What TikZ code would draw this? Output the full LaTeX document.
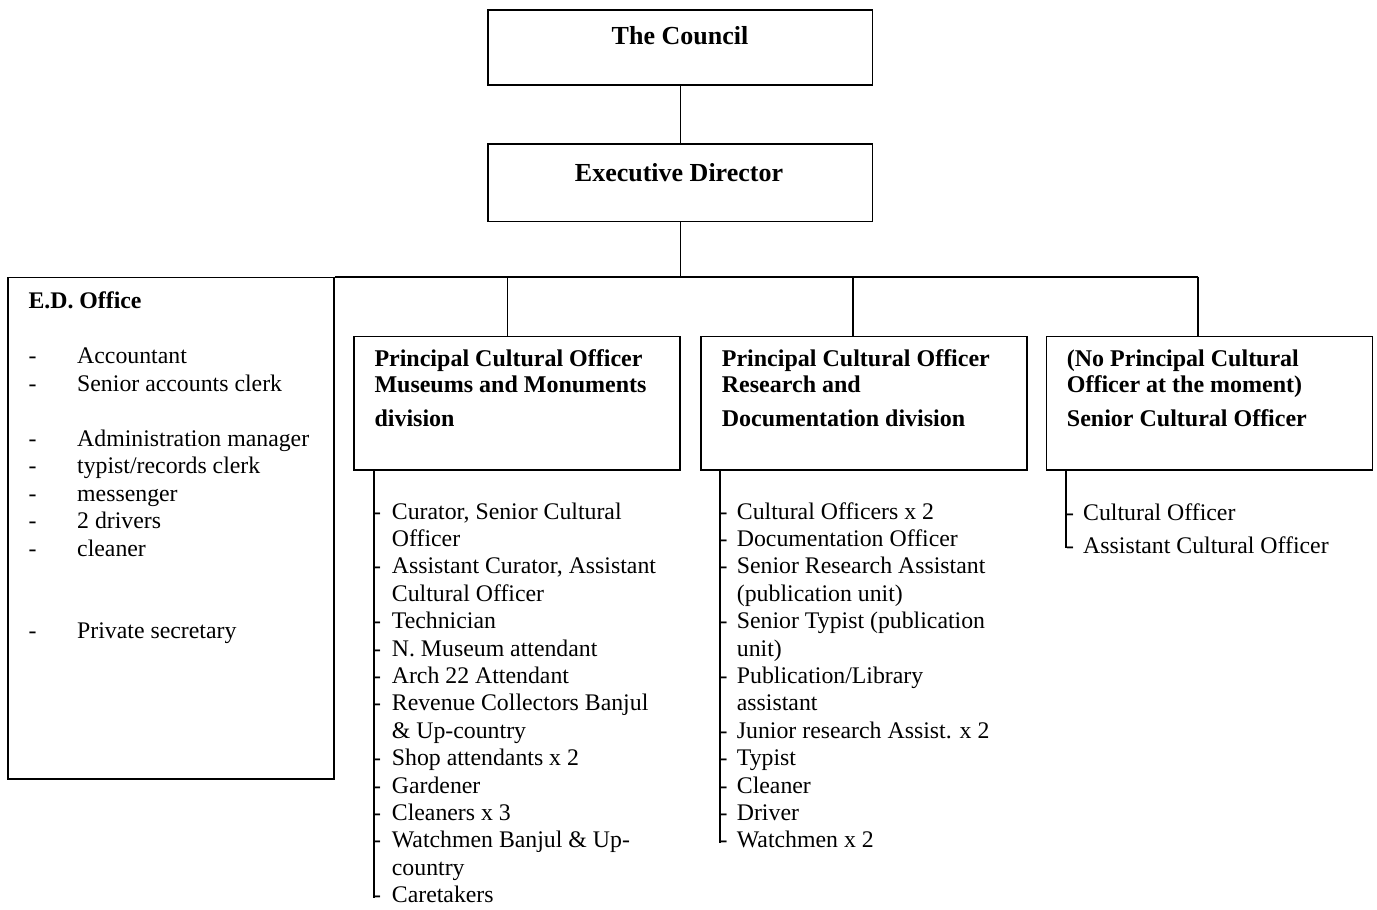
\documentclass[tikz,border=0pt]{standalone}
\usepackage{fontspec}
\setmainfont{Liberation Serif}
\usepackage{array}
\newcommand\lstfont{\fontsize{23.8}{27.4}\selectfont}
\newcommand\edofont{\fontsize{23.8}{27.5}\selectfont}
\newcommand\rgtfont{\fontsize{23.8}{33.5}\selectfont}
\newcommand\hdfont{\fontsize{24}{26}\selectfont\bfseries}
\newcommand\topfont{\fontsize{26}{30}\selectfont\bfseries}
\begin{document}
\begin{tikzpicture}[x=1pt,y=-1pt,
  box/.style={draw, line width=1.6pt, inner sep=0pt, anchor=north west},
  lbl/.style={inner sep=0pt, anchor=base west},
  ttl/.style={inner sep=0pt, anchor=base},
  wire/.style={line width=1.6pt}]
\useasboundingbox[fill=white] (0,0) rectangle (1377,910);

% boxes
\node[box, minimum width=384.4pt, minimum height=75pt] (council) at (487.3,9.3) {};
\node[box, minimum width=384.4pt, minimum height=77.4pt] (ed) at (487.3,143.3) {};
\node[box, minimum width=326pt, minimum height=501.6pt] (edo) at (7.3,276.7) {};
\node[box, minimum width=326pt, minimum height=133.3pt] (mus) at (353,335.7) {};
\node[box, minimum width=326pt, minimum height=133.3pt] (res) at (700,335.7) {};
\node[box, minimum width=326pt, minimum height=133.3pt] (none) at (1045.5,335.7) {};

% titles
\node[ttl] (councilt) at (680,44.3) {\topfont The Council};
\node[ttl] (edt) at (679,181.7) {\topfont Executive Director};

\node[lbl] (mushead) at (374.3,366.7) {\hdfont\begin{tabular}[t]{@{}l@{}}Principal Cultural Officer\\Museums and Monuments\\[8pt]division\end{tabular}};
\node[lbl] (reshead) at (721.7,366.7) {\hdfont\begin{tabular}[t]{@{}l@{}}Principal Cultural Officer\\Research and\\[8pt]Documentation division\end{tabular}};
\node[lbl] (nonehead) at (1066.7,366.7) {\hdfont\begin{tabular}[t]{@{}l@{}}(No Principal Cultural\\Officer at the moment)\\[8pt]Senior Cultural Officer\end{tabular}};

% connectors
\coordinate (b1) at (507.5,276.7);
\coordinate (b2) at (853,276.7);
\coordinate (b3) at (1197.7,276.7);
\draw[wire] (council.south) -- (ed.north);
\draw[wire] (ed.south) -- (ed.south |- edo.north);
\draw[wire] (edo.north east) -- (b3);
\draw[wire] (b1) -- (b1 |- mus.north);
\draw[wire] (b2) -- (b2 |- res.north);
\draw[wire] (b3) -- (b3 |- none.north);

\coordinate (mbot) at (373.8,897.5);
\coordinate (rbot) at (719.8,843);
\coordinate (nbot) at (1066,548);
\draw[wire] (mus.south -| mbot) -- (mbot);
\draw[wire] (res.south -| rbot) -- (rbot);
\draw[wire] (none.south -| nbot) -- (nbot);

% E.D. Office contents
\node[lbl] (edolist) at (28.3,308.5) {\edofont\begin{tabular}[t]{@{}p{48.7pt}@{}l@{}}
\multicolumn{2}{@{}l@{}}{\bfseries E.D. Office}\\
\\
- & Accountant\\
- & Senior accounts clerk\\
\\
- & Administration manager\\
- & typist/records clerk\\
- & messenger\\
- & 2 drivers\\
- & cleaner\\
\\
\\
- & Private secretary
\end{tabular}};

% Museums list
\node[lbl] (muslist) at (373,519) {\lstfont\begin{tabular}[t]{@{}p{18.7pt}@{}l@{}}
- & Curator, Senior Cultural\\
 & Officer\\
- & Assistant Curator, Assistant\\
 & Cultural Officer\\
- & Technician\\
- & N. Museum attendant\\
- & Arch 22 Attendant\\
- & Revenue Collectors Banjul\\
 & \& Up-country\\
- & Shop attendants x 2\\
- & Gardener\\
- & Cleaners x 3\\
- & Watchmen Banjul \& Up-\\
 & country\\
- & Caretakers
\end{tabular}};

% Research list
\node[lbl] (reslist) at (719.5,519) {\lstfont\begin{tabular}[t]{@{}p{17.2pt}@{}l@{}}
- & Cultural Officers x 2\\
- & Documentation Officer\\
- & Senior Research Assistant\\
 & (publication unit)\\
- & Senior Typist (publication\\
 & unit)\\
- & Publication/Library\\
 & assistant\\
- & Junior research Assist. x 2\\
- & Typist\\
- & Cleaner\\
- & Driver\\
- & Watchmen x 2
\end{tabular}};

% Senior Cultural Officer list
\node[lbl] (nonelist) at (1066,520) {\rgtfont\begin{tabular}[t]{@{}p{17pt}@{}l@{}}
- & Cultural Officer\\
- & Assistant Cultural Officer
\end{tabular}};
\end{tikzpicture}
\end{document}
